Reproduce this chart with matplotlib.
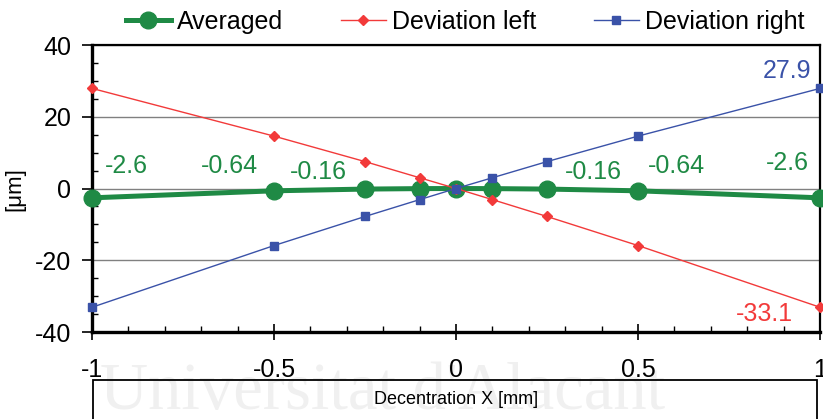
import matplotlib
matplotlib.use("Agg")
import matplotlib.pyplot as plt
from matplotlib.patches import Rectangle
from matplotlib.ticker import FuncFormatter, MultipleLocator

# data
decentration = [-1, -0.5, -0.25, -0.1, 0, 0.1, 0.25, 0.5, 1]
averaged = [-2.6, -0.64, -0.16, -0.03, 0, -0.03, -0.16, -0.64, -2.6]
deviation_left = [27.9, 14.6, 7.5, 3.0, 0, -3.1, -7.8, -15.9, -33.1]
deviation_right = [-33.1, -15.9, -7.8, -3.1, 0, 3.0, 7.5, 14.6, 27.9]
averaged_labels = ["-2.6", "-0.64", "-0.16", "", "", "", "-0.16", "-0.64", "-2.6"]

GREEN = "#1f8a45"
RED = "#f23a3a"
BLUE = "#3a52a8"

plt.rcParams["font.family"] = ["Liberation Sans", "DejaVu Sans"]
plt.rcParams["axes.unicode_minus"] = False

fig = plt.figure(figsize=(8.23, 4.19), dpi=100)
ax = fig.add_axes([0.1118, 0.2076, 0.8846, 0.685])

# watermark, behind everything else
fig.text(0.122, 0.025, "Universitat d'Alacant", family="Liberation Serif",
         fontsize=48, color="#f0f0f0", ha="left", va="baseline", zorder=-5)

ax.plot(decentration, averaged, color=GREEN, lw=3.6, marker="o", ms=12,
        label="Averaged", clip_on=False, zorder=3)
ax.plot(decentration, deviation_left, color=RED, lw=1.0, marker="D", ms=5,
        label="Deviation left", clip_on=False, zorder=4)
ax.plot(decentration, deviation_right, color=BLUE, lw=1.0, marker="s", ms=6,
        label="Deviation right", clip_on=False, zorder=5)

# data labels (offsets in pixels)
green_offsets = {0: (34, 32), 1: (-45, 25), 2: (-47, 17),
                 6: (46, 17), 7: (38, 25), 8: (-33, 35)}
for i, (dx, dy) in green_offsets.items():
    ax.annotate(averaged_labels[i], (decentration[i], averaged[i]),
                xytext=(dx, dy), textcoords="offset pixels",
                ha="center", va="center", fontsize=18, color=GREEN)
ax.annotate(f"{deviation_left[-1]:g}", (decentration[-1], deviation_left[-1]),
            xytext=(-56, -7), textcoords="offset pixels",
            ha="center", va="center", fontsize=18, color=RED)
ax.annotate(f"{deviation_right[-1]:g}", (decentration[-1], deviation_right[-1]),
            xytext=(-33, 17), textcoords="offset pixels",
            ha="center", va="center", fontsize=18, color=BLUE)

ax.set_xlim(-1, 1)
ax.set_ylim(-40, 40)
ax.xaxis.set_major_locator(MultipleLocator(0.5))
ax.xaxis.set_minor_locator(MultipleLocator(0.1))
ax.yaxis.set_major_locator(MultipleLocator(20))
ax.yaxis.set_minor_locator(MultipleLocator(5))
fmt = FuncFormatter(lambda v, p: f"{v:g}")
ax.xaxis.set_major_formatter(fmt)
ax.yaxis.set_major_formatter(fmt)

ax.tick_params(axis="x", which="major", direction="inout", length=12,
               width=1.2, labelsize=18, pad=13)
ax.tick_params(axis="x", which="minor", direction="in", length=4, width=1)
ax.tick_params(axis="y", which="major", direction="out", length=7,
               width=1.2, labelsize=18, pad=8)
ax.tick_params(axis="y", which="minor", direction="in", length=4, width=1)

ax.grid(axis="y", which="major", color="#808080", lw=1.0, zorder=1)
ax.set_axisbelow(True)
ax.set_facecolor("none")
for side in ("left", "bottom"):
    ax.spines[side].set_linewidth(2.4)
for side in ("top", "right"):
    ax.spines[side].set_linewidth(1.6)

fig.text(15 / 823, 1 - 189 / 419, "[μm]", rotation=90, ha="center",
         va="center", fontsize=16)

# axis title box
fig.patches.append(Rectangle((93 / 823, -0.05), 724 / 823, 1 - 380 / 419 + 0.05,
                             transform=fig.transFigure, fill=False,
                             edgecolor="black", lw=1.3))
fig.text(456 / 823, 1 - 399 / 419, "Decentration X [mm]", ha="center",
         va="center", fontsize=13)

ax.legend(loc="center", bbox_to_anchor=(0.5125, 1.08), ncol=3, frameon=False,
          fontsize=18, handlelength=1.8, handletextpad=0.25,
          columnspacing=2.3, borderaxespad=0)

fig.savefig("out.png", dpi=100)
